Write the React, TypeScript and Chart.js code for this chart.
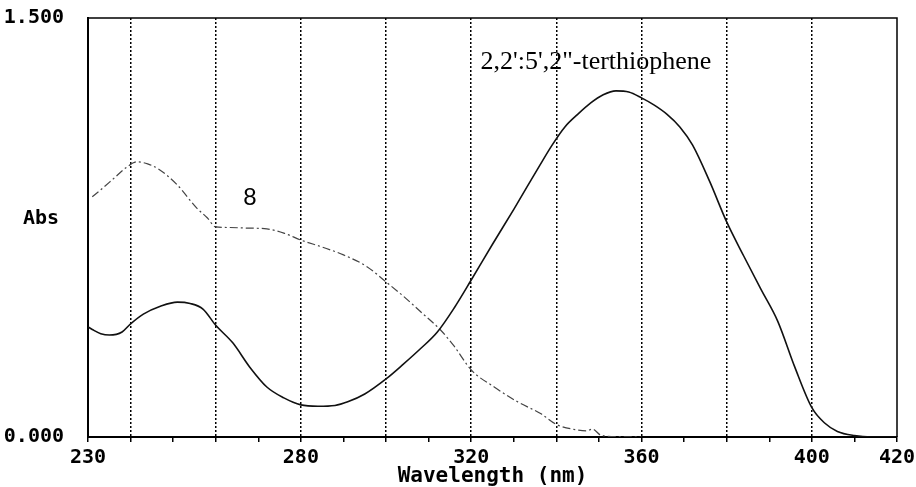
import React, { useEffect, useRef } from "react";
import { Chart, registerables } from "chart.js";

Chart.register(...registerables);

// 2,2':5',2"-terthiophene (solid)
const terWavelength = [230, 231, 233, 235, 238, 240, 243, 247, 251, 254, 257, 260, 264, 268, 272, 276, 280, 284, 288, 291, 295, 300, 304, 308, 312, 316, 320, 325, 330, 336, 339, 342, 345, 348, 351, 354, 357, 360, 363, 366, 369, 372, 376, 380, 384, 388, 392, 396, 400, 403, 406, 410, 414, 420];
const terAbs = [0.394, 0.385, 0.37, 0.365, 0.376, 0.405, 0.44, 0.468, 0.483, 0.478, 0.458, 0.4, 0.337, 0.25, 0.179, 0.14, 0.115, 0.11, 0.113, 0.126, 0.154, 0.208, 0.26, 0.315, 0.375, 0.462, 0.562, 0.69, 0.815, 0.97, 1.045, 1.11, 1.155, 1.195, 1.225, 1.239, 1.235, 1.214, 1.188, 1.155, 1.11, 1.045, 0.915, 0.77, 0.648, 0.53, 0.414, 0.25, 0.105, 0.05, 0.02, 0.005, 0.0, 0.0];

// compound 8 (dash-dot)
const cmp8Wavelength = [231, 233, 236, 239, 241.5, 244, 246.5, 251, 255.5, 258, 260, 263, 267, 272, 276, 280, 285, 290, 295.6, 300, 304, 308, 312.8, 316, 320, 325.4, 331, 336.4, 340, 345, 347, 348.5, 350.5, 355, 360];
const cmp8Abs = [0.86, 0.885, 0.925, 0.965, 0.985, 0.978, 0.96, 0.902, 0.82, 0.785, 0.752, 0.75, 0.748, 0.745, 0.73, 0.705, 0.68, 0.652, 0.609, 0.555, 0.505, 0.45, 0.383, 0.325, 0.24, 0.179, 0.125, 0.083, 0.045, 0.025, 0.022, 0.028, 0.006, 0.001, 0.0];

const xLabelValues = [230, 280, 320, 360, 400, 420];
const gridValues = [240, 260, 280, 300, 320, 340, 360, 380, 400];
const yLabelValues = [0, 1.5];

const terLabel = "2,2':5',2\"-terthiophene";
const cmp8Label = "8";
const xTitle = "Wavelength (nm)";
const yTitle = "Abs";

const MONO = '"DejaVu Sans Mono", monospace';

const annotPlugin = {
  id: "annot",
  afterDraw(chart: any) {
    const { ctx, chartArea: ca, scales } = chart;
    const x = scales.x;
    const y = scales.y;
    ctx.save();
    ctx.strokeStyle = "#000";
    ctx.lineWidth = 1.5;
    ctx.setLineDash([]);
    ctx.beginPath();
    ctx.moveTo(ca.left, ca.top);
    ctx.lineTo(ca.right, ca.top);
    ctx.lineTo(ca.right, ca.bottom);
    ctx.stroke();

    ctx.fillStyle = "#000";
    ctx.textBaseline = "middle";
    ctx.textAlign = "left";
    ctx.font = `bold 20px ${MONO}`;
    ctx.fillText(yTitle, 23, y.getPixelForValue(0.78));

    ctx.textAlign = "center";
    ctx.font = '24px "Liberation Sans", Arial, sans-serif';
    ctx.fillText(cmp8Label, x.getPixelForValue(268), y.getPixelForValue(0.855));

    ctx.textAlign = "left";
    ctx.font = '26px "Liberation Serif", "Times New Roman", serif';
    ctx.fillText(terLabel, x.getPixelForValue(322.2), y.getPixelForValue(1.342));
    ctx.restore();
  },
};

export default function App() {
  const ref = useRef<HTMLCanvasElement | null>(null);

  useEffect(() => {
    if (!ref.current) return;
    const terData = terWavelength.map((w, i) => ({ x: w, y: terAbs[i] }));
    const cmp8Data = cmp8Wavelength.map((w, i) => ({ x: w, y: cmp8Abs[i] }));

    const chart = new Chart(ref.current, {
      type: "line",
      data: {
        datasets: [
          {
            label: terLabel,
            data: terData,
            borderColor: "#111",
            borderWidth: 1.6,
            pointRadius: 0,
            fill: false,
            cubicInterpolationMode: "monotone",
          },
          {
            label: cmp8Label,
            data: cmp8Data,
            borderColor: "#444",
            borderWidth: 1.2,
            borderDash: [8, 3, 2, 3],
            pointRadius: 0,
            fill: false,
            cubicInterpolationMode: "monotone",
          },
        ],
      },
      options: {
        responsive: false,
        animation: false,
        devicePixelRatio: 1,
        layout: { padding: { top: 18, right: 19, bottom: 0, left: 0 } },
        plugins: { legend: { display: false }, tooltip: { enabled: false } },
        scales: {
          x: {
            type: "linear",
            min: 230,
            max: 420,
            afterFit: (s: any) => {
              s.height = 50;
              s.paddingLeft = 0;
              s.paddingRight = 0;
            },
            ticks: {
              stepSize: 10,
              autoSkip: false,
              maxRotation: 0,
              padding: 4,
              color: "#000",
              font: { family: MONO, size: 20, weight: "bold", lineHeight: 1.2 },
              callback: (v: any) => (xLabelValues.includes(Number(v)) ? String(v) : ""),
            },
            grid: {
              display: true,
              drawOnChartArea: true,
              drawTicks: true,
              tickLength: 5,
              tickColor: "#000",
              tickWidth: 1.5,
              tickBorderDash: [],
              lineWidth: 1.5,
              color: (c: any) => {
                const v = c.tick ? c.tick.value : NaN;
                return gridValues.includes(v) ? "#000" : "rgba(0,0,0,0)";
              },
            },
            border: { display: true, color: "#000", width: 2, dash: [2, 2] },
            title: {
              display: true,
              text: xTitle,
              color: "#000",
              font: { family: MONO, size: 21, weight: "bold", lineHeight: 1 },
              padding: { top: 0, bottom: 0 },
            },
          },
          y: {
            type: "linear",
            min: 0,
            max: 1.5,
            afterFit: (s: any) => {
              s.width = 88;
              s.paddingTop = 0;
              s.paddingBottom = 0;
            },
            afterBuildTicks: (s: any) => {
              s.ticks = yLabelValues.map((v) => ({ value: v }));
            },
            ticks: {
              padding: 16,
              color: "#000",
              font: { family: MONO, size: 20, weight: "bold" },
              callback: (v: any) => Number(v).toFixed(3),
            },
            grid: { display: false },
            border: { display: true, color: "#000", width: 2 },
          },
        },
      },
      plugins: [annotPlugin],
    } as any);

    return () => chart.destroy();
  }, []);

  return (
    <div style={{ position: "absolute", left: 0, top: 0, width: 916, height: 487, background: "#fff" }}>
      <canvas ref={ref} width={916} height={487} style={{ width: 916, height: 487, display: "block" }} />
    </div>
  );
}
